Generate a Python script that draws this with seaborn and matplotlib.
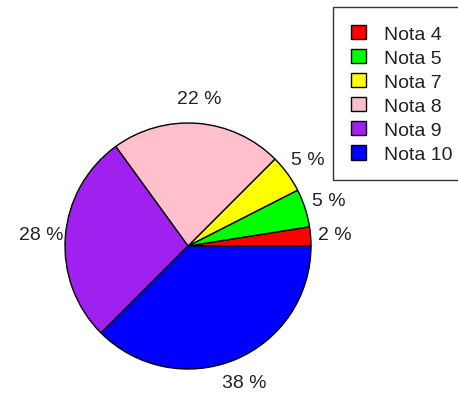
import numpy as np
import matplotlib
matplotlib.use("Agg")
import matplotlib.pyplot as plt
import seaborn as sns

# counts per grade (40 students)
notas = ["Nota 4", "Nota 5", "Nota 7", "Nota 8", "Nota 9", "Nota 10"]
contagens = [1, 2, 2, 9, 11, 15]
cores = ["#FF0000", "#00FF00", "#FFFF00", "#FFC0CB", "#A020F0", "#0000FF"]

sns.set_style("white")
plt.rcParams["font.family"] = ["Liberation Sans", "DejaVu Sans"]

pct = np.round(100 * np.array(contagens) / sum(contagens)).astype(int)
rotulos = [f"{p} %" for p in pct]

W, H = 458, 410
fig = plt.figure(figsize=(W / 100, H / 100), dpi=100)
ax = fig.add_axes([0, 0, 1, 1])

wedges, texts = ax.pie(
    contagens, labels=rotulos, colors=cores, startangle=0, counterclock=True,
    labeldistance=1.2, radius=1,
    wedgeprops=dict(edgecolor="black", linewidth=1),
    textprops=dict(fontsize=14, color="#222222"),
)
for t in texts:
    t.set_horizontalalignment("center")
    t.set_verticalalignment("center")

# pie centre at (188, 247) px from top-left, radius 123 px
r, cx, cy = 123, 188, H - 247
ax.set_xlim(-cx / r, (W - cx) / r)
ax.set_ylim(-cy / r, (H - cy) / r)
ax.set_aspect("equal")
ax.axis("off")

leg = fig.legend(
    wedges, notas, loc="upper left", bbox_to_anchor=(333 / W, 1 - 8 / H),
    frameon=True, fancybox=False, edgecolor="black", fontsize=14,
    handlelength=0.8, handleheight=0.8, handletextpad=0.9,
    labelspacing=0.3, borderpad=0.9, borderaxespad=0,
)
leg.get_frame().set_linewidth(1)
for t in leg.get_texts():
    t.set_color("#222222")

fig.savefig("out.png", dpi=100)
